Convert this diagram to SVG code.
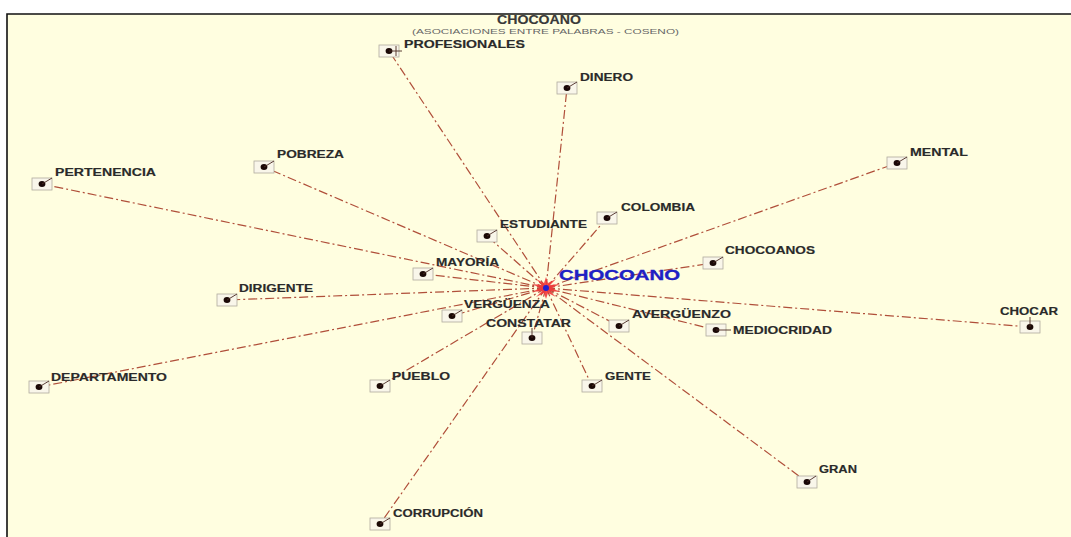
<svg xmlns="http://www.w3.org/2000/svg" width="1071" height="537" viewBox="0 0 1071 537">
  <style>
    .lbl { font-family: "Liberation Sans", Arial, sans-serif; font-weight: bold; font-size: 10.5px; fill: #2a2a2a; stroke: #2a2a2a; stroke-width: 0.15; }
    .link { stroke: #b04f3a; stroke-width: 1.2; stroke-dasharray: 9 3 2 3; fill: none; }
    .box { fill: #f9f6ea; stroke: #b0ab9e; stroke-width: 0.8; }
    .dot { fill: #1a0806; }
    .tick { stroke: #4a2a22; stroke-width: 0.9; fill: none; }
  </style>
  <defs>
    <g id="marker">
      <rect class="box" x="-10" y="-6" width="20" height="12"/>
      <ellipse class="dot" cx="0" cy="0" rx="3.4" ry="3"/>
    </g>
  </defs>

  <!-- canvas and frame -->
  <rect x="0" y="0" width="1071" height="537" fill="#ffffff"/>
  <rect x="7" y="14" width="1064" height="523" fill="#fffee0"/>
  <path d="M7 537 V14 H1071" stroke="#111" stroke-width="1.6" fill="none"/>

  <!-- heading -->
  <text x="497" y="23.5" class="lbl" style="font-size:12.5px;fill:#3a3a3a" textLength="84" lengthAdjust="spacingAndGlyphs">CHOCOANO</text>
  <text x="412" y="34" style="font-family:'Liberation Sans',Arial,sans-serif;font-size:7.5px;fill:#666" textLength="267" lengthAdjust="spacingAndGlyphs">(ASOCIACIONES ENTRE PALABRAS - COSENO)</text>

  <!-- connectors from the hub -->
  <g id="connectors">
    <line class="link" x1="546" y1="288" x2="389" y2="51"/>
    <line class="link" x1="546" y1="288" x2="567" y2="88"/>
    <line class="link" x1="546" y1="288" x2="264" y2="167"/>
    <line class="link" x1="546" y1="288" x2="42" y2="184"/>
    <line class="link" x1="546" y1="288" x2="897" y2="163"/>
    <line class="link" x1="546" y1="288" x2="607" y2="218"/>
    <line class="link" x1="546" y1="288" x2="487" y2="236"/>
    <line class="link" x1="546" y1="288" x2="713" y2="263"/>
    <line class="link" x1="546" y1="288" x2="423" y2="274"/>
    <line class="link" x1="546" y1="288" x2="227" y2="300"/>
    <line class="link" x1="546" y1="288" x2="452" y2="316"/>
    <line class="link" x1="546" y1="288" x2="532" y2="338"/>
    <line class="link" x1="546" y1="288" x2="619" y2="326"/>
    <line class="link" x1="546" y1="288" x2="716" y2="330"/>
    <line class="link" x1="546" y1="288" x2="1030" y2="327"/>
    <line class="link" x1="546" y1="288" x2="39" y2="387"/>
    <line class="link" x1="546" y1="288" x2="380" y2="386"/>
    <line class="link" x1="546" y1="288" x2="592" y2="386"/>
    <line class="link" x1="546" y1="288" x2="807" y2="482"/>
    <line class="link" x1="546" y1="288" x2="380" y2="524"/>
  </g>

  <!-- word nodes -->
  <g id="node-profesionales"><use href="#marker" x="389" y="51"/><path class="tick" d="M389 51 H402 M396 46 V56"/><text class="lbl" x="404" y="48" textLength="121" lengthAdjust="spacingAndGlyphs">PROFESIONALES</text></g>
  <g id="node-dinero"><use href="#marker" x="567" y="88"/><path class="tick" d="M567 88 L577 82"/><text class="lbl" x="580" y="81" textLength="53" lengthAdjust="spacingAndGlyphs">DINERO</text></g>
  <g id="node-pobreza"><use href="#marker" x="264" y="167"/><path class="tick" d="M264 167 L274 161"/><text class="lbl" x="277" y="158" textLength="67" lengthAdjust="spacingAndGlyphs">POBREZA</text></g>
  <g id="node-pertenencia"><use href="#marker" x="42" y="184"/><path class="tick" d="M42 184 L52 178"/><text class="lbl" x="55" y="176" textLength="101" lengthAdjust="spacingAndGlyphs">PERTENENCIA</text></g>
  <g id="node-mental"><use href="#marker" x="897" y="163"/><path class="tick" d="M897 163 L907 157"/><text class="lbl" x="910" y="156" textLength="58" lengthAdjust="spacingAndGlyphs">MENTAL</text></g>
  <g id="node-colombia"><use href="#marker" x="607" y="218"/><path class="tick" d="M607 218 L617 212"/><text class="lbl" x="621" y="211" textLength="74" lengthAdjust="spacingAndGlyphs">COLOMBIA</text></g>
  <g id="node-estudiante"><use href="#marker" x="487" y="236"/><path class="tick" d="M487 236 L497 230"/><text class="lbl" x="500" y="228" textLength="87" lengthAdjust="spacingAndGlyphs">ESTUDIANTE</text></g>
  <g id="node-chocoanos"><use href="#marker" x="713" y="263"/><path class="tick" d="M713 263 L723 257"/><text class="lbl" x="725" y="254" textLength="90" lengthAdjust="spacingAndGlyphs">CHOCOANOS</text></g>
  <g id="node-mayoria"><use href="#marker" x="423" y="274"/><path class="tick" d="M423 274 L433 268"/><text class="lbl" x="436" y="266" textLength="63" lengthAdjust="spacingAndGlyphs">MAYORÍA</text></g>
  <g id="node-dirigente"><use href="#marker" x="227" y="300"/><path class="tick" d="M227 300 L237 294"/><text class="lbl" x="239" y="292" textLength="74" lengthAdjust="spacingAndGlyphs">DIRIGENTE</text></g>
  <g id="node-verguenza"><use href="#marker" x="452" y="316"/><path class="tick" d="M452 316 L462 310"/><text class="lbl" x="464" y="308" textLength="86" lengthAdjust="spacingAndGlyphs">VERGÜENZA</text></g>
  <g id="node-constatar"><use href="#marker" x="532" y="338"/><path class="tick" d="M532 338 V328"/><text class="lbl" x="486" y="327" textLength="85" lengthAdjust="spacingAndGlyphs">CONSTATAR</text></g>
  <g id="node-averguenzo"><use href="#marker" x="619" y="326"/><path class="tick" d="M619 326 L629 320"/><text class="lbl" x="632" y="318" textLength="99" lengthAdjust="spacingAndGlyphs">AVERGÜENZO</text></g>
  <g id="node-mediocridad"><use href="#marker" x="716" y="330"/><path class="tick" d="M716 330 H731"/><text class="lbl" x="733" y="334" textLength="99" lengthAdjust="spacingAndGlyphs">MEDIOCRIDAD</text></g>
  <g id="node-chocar"><use href="#marker" x="1030" y="327"/><path class="tick" d="M1030 327 V317"/><text class="lbl" x="1000" y="315" textLength="58" lengthAdjust="spacingAndGlyphs">CHOCAR</text></g>
  <g id="node-departamento"><use href="#marker" x="39" y="387"/><path class="tick" d="M39 387 L49 381"/><text class="lbl" x="51" y="381" textLength="116" lengthAdjust="spacingAndGlyphs">DEPARTAMENTO</text></g>
  <g id="node-pueblo"><use href="#marker" x="380" y="386"/><path class="tick" d="M380 386 L390 380"/><text class="lbl" x="392" y="380" textLength="58" lengthAdjust="spacingAndGlyphs">PUEBLO</text></g>
  <g id="node-gente"><use href="#marker" x="592" y="386"/><path class="tick" d="M592 386 L602 380"/><text class="lbl" x="605" y="380" textLength="46" lengthAdjust="spacingAndGlyphs">GENTE</text></g>
  <g id="node-gran"><use href="#marker" x="807" y="482"/><path class="tick" d="M807 482 L816 476"/><text class="lbl" x="819" y="473" textLength="38" lengthAdjust="spacingAndGlyphs">GRAN</text></g>
  <g id="node-corrupcion"><use href="#marker" x="380" y="524"/><path class="tick" d="M380 524 L390 518"/><text class="lbl" x="393" y="517" textLength="90" lengthAdjust="spacingAndGlyphs">CORRUPCIÓN</text></g>

  <!-- hub word -->
  <g id="node-chocoano">
    <polygon fill="#f03a3a" opacity="0.9" points="546,277 548,283 556,279 550,285 560,284 552,288 560,292 550,291 556,297 548,293 546,299 544,293 536,297 542,291 532,292 540,288 532,284 542,285 536,279 544,283"/>
    <circle cx="546" cy="288" r="3" fill="#2020d0"/>
    <text x="559" y="279.5" style="font-family:'Liberation Sans',Arial,sans-serif;font-weight:bold;font-size:14px;fill:#2020c4;stroke:#2020c4;stroke-width:0.3" textLength="121" lengthAdjust="spacingAndGlyphs">CHOCOANO</text>
  </g>
</svg>
